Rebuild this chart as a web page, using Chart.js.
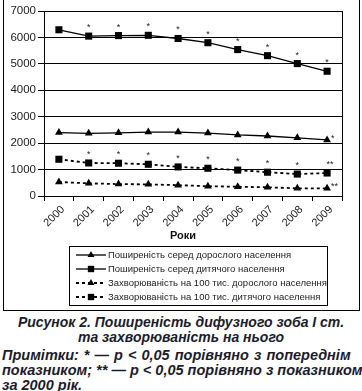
<!DOCTYPE html>
<html>
<head>
<meta charset="utf-8">
<script src="https://cdn.jsdelivr.net/npm/chart.js@4"></script>
<style>
  html, body { margin: 0; padding: 0; background: #fff; }
  body { width: 362px; height: 391px; position: relative; overflow: hidden; font-family: 'Liberation Sans', Arial, sans-serif; }
  #frame { position: absolute; left: 3px; top: -1px; width: 355px; height: 310px; border: 1px solid #000; }
  #wrap { position: absolute; left: 0; top: 0; width: 362px; height: 311px; }
  .cap { position: absolute; color: #1c1c2c; font-weight: bold; font-style: italic; font-size: 14px; line-height: 15px; white-space: nowrap; }
  #title { left: 0; width: 362px; top: 315px; text-align: center; }
  #notes { left: 2px; width: 362px; top: 348px; font-size: 14.5px; }
  #notes .l1 { word-spacing: 1px; }
</style>
</head>
<body>
<div id="frame"></div>
<div id="wrap"><canvas id="chart" width="362" height="311"></canvas></div>
<div class="cap" id="title">Рисунок 2. Поширеність дифузного зоба I ст.<br>та захворюваність на нього</div>
<div class="cap" id="notes"><span class="l1">Примітки: * — p &lt; 0,05 порівняно з попереднім</span><br>показником; ** — p &lt; 0,05 порівняно з показником<br>за 2000 рік.</div>
<script>
// Data
const years = ['2000', '2001', '2002', '2003', '2004', '2005', '2006', '2007', '2008', '2009'];
const adultPrev = [2400, 2370, 2390, 2420, 2420, 2380, 2310, 2270, 2200, 2120];
const childPrev = [6290, 6050, 6070, 6080, 5960, 5800, 5540, 5310, 5010, 4720];
const adultInc = [530, 480, 450, 440, 410, 370, 350, 330, 290, 290];
const childInc = [1390, 1250, 1240, 1200, 1100, 1050, 980, 900, 830, 870];

// significance marks
const adultPrevMarks = ['', '', '', '', '', '', '', '', '', '*'];
const childPrevMarks = ['', '*', '*', '*', '*', '*', '*', '*', '*', '*'];
const adultIncMarks = ['', '', '', '', '', '', '', '', '', '**'];
const childIncMarks = ['', '*', '*', '*', '*', '*', '*', '*', '*', '**'];

const labels = [
    'Поширеність серед дорослого населення',
    'Поширеність серед дитячого населення',
    'Захворюваність на 100 тис. дорослого населення',
    'Захворюваність на 100 тис. дитячого населення'
];
const xTitle = 'Роки';

const FONT = "'Liberation Sans', Arial, sans-serif";

// Plugin: asterisks, right border, axis title, legend box
const extras = {
    id: 'extras',
    afterDatasetsDraw(chart) {
        const ctx = chart.ctx;
        const area = chart.chartArea;
        ctx.save();
        // right border of plot
        ctx.strokeStyle = '#000';
        ctx.lineWidth = 1;
        ctx.beginPath();
        ctx.moveTo(Math.round(area.right) + 0.5, area.top);
        ctx.lineTo(Math.round(area.right) + 0.5, area.bottom);
        ctx.stroke();

        // asterisks
        ctx.fillStyle = '#222';
        ctx.font = '9px ' + FONT;
        ctx.textAlign = 'center';
        ctx.textBaseline = 'alphabetic';
        chart.data.datasets.forEach((ds, di) => {
            const meta = chart.getDatasetMeta(di);
            ds.marks.forEach((m, i) => {
                if (!m) return;
                const p = meta.data[i];
                if (ds.markRight && i === ds.marks.length - 1) {
                    ctx.textAlign = 'left';
                    ctx.fillText(m, p.x + 4, p.y + 1);
                    ctx.textAlign = 'center';
                } else {
                    ctx.fillText(m, p.x + (m.length > 1 ? 3 : 0), p.y - 6);
                }
            });
        });

        // x axis title (sits a little left of centre in the original)
        ctx.fillStyle = '#111';
        ctx.font = 'bold 11px ' + FONT;
        ctx.textBaseline = 'middle';
        ctx.fillText(xTitle, 183, 236);

        // legend
        const bx = 69, by = 246, bw = 258, bh = 59;
        ctx.strokeStyle = '#000';
        ctx.lineWidth = 1;
        ctx.strokeRect(bx + 0.5, by + 0.5, bw, bh);
        ctx.font = '9.5px ' + FONT;
        ctx.textAlign = 'left';
        chart.data.datasets.forEach((ds, di) => {
            const y = by + 9 + di * 14;
            const x0 = bx + 7;
            ctx.save();
            ctx.strokeStyle = '#000';
            ctx.lineWidth = ds.borderWidth;
            ctx.setLineDash(ds.borderDash || []);
            ctx.beginPath();
            ctx.moveTo(x0, y);
            ctx.lineTo(x0 + 30, y);
            ctx.stroke();
            ctx.restore();
            ctx.fillStyle = '#000';
            Chart.helpers.drawPoint(ctx, {
                pointStyle: ds.pointStyle, radius: ds.pointRadius - 0.5, rotation: 0, borderWidth: 0
            }, x0 + 15, y);
            ctx.fillStyle = '#222';
            ctx.fillText(ds.label, x0 + 32, y + 0.5);
        });
        ctx.restore();
    }
};

const mk = (label, data, marks, style, dashed, markRight) => ({
    label: label,
    data: data,
    marks: marks,
    markRight: markRight,
    borderColor: '#000',
    backgroundColor: '#000',
    borderWidth: dashed ? 1.8 : 1.3,
    borderDash: dashed ? [3, 3] : [],
    pointStyle: style,
    pointRadius: style === 'rect' ? 5 : 4.5,
    pointBackgroundColor: '#000',
    pointBorderWidth: 0,
    tension: 0
});

new Chart(document.getElementById('chart'), {
    type: 'line',
    data: {
        labels: years,
        datasets: [
            mk(labels[0], adultPrev, adultPrevMarks, 'triangle', false, true),
            mk(labels[1], childPrev, childPrevMarks, 'rect', false, false),
            mk(labels[2], adultInc, adultIncMarks, 'triangle', true, true),
            mk(labels[3], childInc, childIncMarks, 'rect', true, false)
        ]
    },
    options: {
        responsive: false,
        animation: false,
        layout: { padding: { top: 11, right: 20, left: 0, bottom: 65 } },
        plugins: { legend: { display: false }, tooltip: { enabled: false } },
        scales: {
            y: {
                min: 0, max: 7000,
                ticks: {
                    stepSize: 1000, color: '#222', padding: 2,
                    font: { family: FONT, size: 11.5 },
                    callback: v => String(v)
                },
                grid: { color: '#000', lineWidth: 1, tickLength: 6 },
                border: { color: '#000' },
                afterFit(scale) { scale.width = 44; }
            },
            x: {
                offset: true,
                ticks: { minRotation: 45, maxRotation: 45, color: '#222', font: { family: FONT, size: 11 }, padding: 2, labelOffset: 4 },
                grid: { offset: true, drawOnChartArea: false, color: '#000', tickLength: 5 },
                border: { color: '#000' },
                afterFit(scale) { scale.height = 50; }
            }
        }
    },
    plugins: [extras]
});
</script>
</body>
</html>
